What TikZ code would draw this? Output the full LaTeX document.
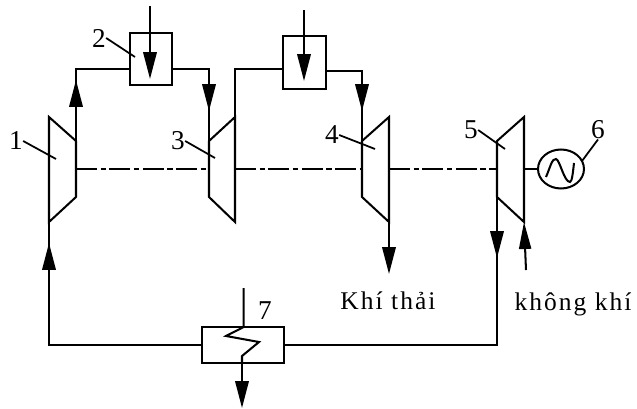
\documentclass[tikz,border=0pt]{standalone}
\usepackage{fontspec}
\setmainfont{Liberation Serif}
\newfontfamily\labelfont[LetterSpace=8]{Liberation Serif}
\usetikzlibrary{arrows.meta}
\usetikzlibrary{shapes.geometric}
\tikzset{
 pipe/.style={black, line width=1.15pt},
 flow/.style={pipe, -{Triangle[length=.54cm,width=.27cm]}},
 shortflow/.style={pipe, -{Triangle[length=.54cm,width=.24cm]}},
 shaft/.style={black, line width=.8pt, dash pattern=on 12pt off 2pt on 3pt off 2pt},
 leader/.style={black, line width=1pt},
 unitbox/.style={draw, pipe, rectangle, inner sep=0, fill=none},
 numlabel/.style={inner sep=0, font=\fontsize{15.5}{16}\selectfont},
 textlabel/.style={inner sep=0, font=\labelfont\fontsize{14.5}{15}\selectfont}
}

\begin{document}
\begin{tikzpicture}[x=.02cm, y=-.02cm]
\useasboundingbox (0,0) rectangle (637,409);
% units
\node[unitbox, minimum width=.84cm, minimum height=1.04cm] (burner1) at (151,59) {};
\node[unitbox, minimum width=.86cm, minimum height=1.06cm] (burner2) at (304.5,62.5) {};
\node[unitbox, minimum width=1.64cm, minimum height=.72cm] (cooler) at (243,345) {};
\node[draw, pipe, ellipse, inner sep=0, minimum width=.92cm, minimum height=.78cm] (gen) at (561,169) {};
% turbines
\foreach \xw/\xn in {49/76,235/209,389/362,524/497} {
 \draw[pipe] (\xw,117)--(\xn,141)--(\xn,197)--(\xw,222)--cycle;
}
% shaft
\coordinate (s1) at (76,169);
\coordinate (s2) at (209,169);
\coordinate (s3) at (235,169);
\coordinate (s4) at (362,169);
\coordinate (s5) at (389,169);
\coordinate (s6) at (497,169);
\coordinate (s7) at (524,169);
\foreach \a/\b in {s1/s2,s3/s4,s5/s6} {
 \draw[shaft] (\a)--(\b);
}
\draw[pipe] (s7)--(gen);
% loop
\coordinate (c1) at (76,141);
\coordinate (c2) at (76,69);
\coordinate (c3) at (76,80);
\draw[pipe] (c1)--(c2)--(c2-|burner1.west);
\draw[flow] (c1)--(c3);
\coordinate (d1) at (209,69);
\coordinate (d2) at (209,111);
\coordinate (d3) at (209,141);
\draw[pipe] (burner1.east|-d1)--(d1)--(d3);
\draw[flow] (d1)--(d2);
\coordinate (e1) at (235,117);
\coordinate (e2) at (235,69);
\draw[pipe] (e1)--(e2)--(e2-|burner2.west);
\coordinate (f1) at (362,71);
\coordinate (f2) at (362,111);
\coordinate (f3) at (362,141);
\draw[pipe] (burner2.east|-f1)--(f1)--(f3);
\draw[flow] (f1)--(f2);
\coordinate (g1) at (389,222);
\coordinate (g2) at (389,274);
\draw[flow] (g1)--(g2);
\coordinate (h1) at (497,197);
\coordinate (h2) at (497,258);
\coordinate (h3) at (497,345);
\draw[pipe] (h1)--(h3)--(cooler.east);
\draw[flow] (h1)--(h2);
\coordinate (i1) at (526,270);
\coordinate (i2) at (524,222);
\draw[shortflow] (i1)--(i2);
\coordinate (j1) at (49,222);
\coordinate (j2) at (49,243);
\coordinate (j3) at (49,345);
\draw[pipe] (j1)--(j3)--(cooler.west);
\draw[flow] (j3)--(j2);
% fuel
\coordinate (k1) at (150,6);
\coordinate (k2) at (150,79);
\draw[flow] (k1)--(k2);
\coordinate (m1) at (304,10);
\coordinate (m2) at (304,81);
\draw[flow] (m1)--(m2);
% coil
\coordinate (n1) at (243.7,288);
\coordinate (n2) at (242,408);
\draw[pipe] (n1)--(243.7,327)--(226,336)--(259,342)--(242,356)--(242,363);
\draw[flow] (242,363)--(n2);
\draw[pipe] (546,177) .. controls (550,168) and (552,158) .. (556,159) .. controls (560,160) and (564,182) .. (570,182) .. controls (572,182) and (573,172) .. (574,163);
% labels
\node[numlabel] (lab1) at (16,141) {1};
\node[numlabel] (lab2) at (99,38) {2};
\node[numlabel] (lab3) at (178,141) {3};
\node[numlabel] (lab4) at (332,135) {4};
\node[numlabel] (lab5) at (471,130) {5};
\node[numlabel] (lab6) at (598,130) {6};
\node[numlabel] (lab7) at (265,311) {7};
\node[textlabel] (exhaust) at (388,301) {Khí thải};
\node[textlabel] (air) at (573,304) {không khí};
% leaders
\coordinate (p1) at (56,159);
\coordinate (p2) at (135,57);
\coordinate (p3) at (215,158);
\coordinate (p4) at (375,149);
\coordinate (p5) at (505,149);
\coordinate (p6) at (582,161);
\foreach \a/\b in {lab1/p1,lab2/p2,lab3/p3,lab4/p4,lab5/p5} {
 \draw[leader] (\a.east)--(\b);
}
\draw[leader] (lab6.south)--(p6);
\end{tikzpicture}
\end{document}
